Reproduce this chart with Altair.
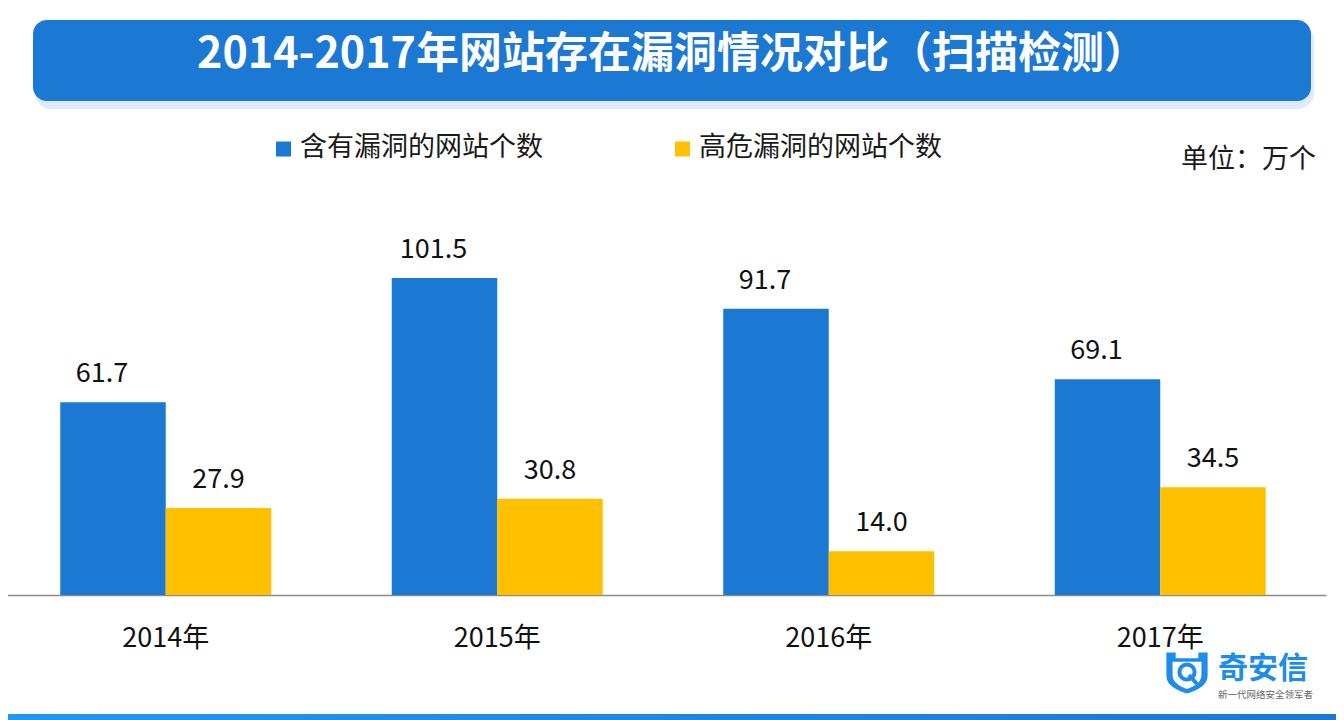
import altair as alt
import pandas as pd

FONT = "Noto Sans CJK SC"

# ---- data ----
years = ["2014年", "2015年", "2016年", "2017年"]
series_names = ["含有漏洞的网站个数", "高危漏洞的网站个数"]
vuln_sites = [61.7, 101.5, 91.7, 69.1]
high_risk_sites = [27.9, 30.8, 14.0, 34.5]
colors = ["#1B78D3", "#FFC000"]
title_text = "2014-2017年网站存在漏洞情况对比（扫描检测）"
unit_text = "单位：万个"
brand = "奇安信"
brand_sub = "新一代网络安全领军者"

rows = []
for y, a, b in zip(years, vuln_sites, high_risk_sites):
    rows.append({"year": y, "series": series_names[0], "value": a, "label": f"{a:.1f}"})
    rows.append({"year": y, "series": series_names[1], "value": b, "label": f"{b:.1f}"})
df = pd.DataFrame(rows)
one = pd.DataFrame({"k": [0]})

x_enc = alt.X(
    "year:N", sort=years,
    scale=alt.Scale(range=[-8, 1318], paddingInner=0.3635, paddingOuter=0.18175),
    axis=alt.Axis(title=None, labelFontSize=27, labelFont=FONT, labelColor="#111111",
                  labelPadding=30, ticks=False, domainColor="#8c8c8c", domainWidth=1.5,
                  labelAngle=0, grid=False),
)
xo_enc = alt.XOffset("series:N", sort=series_names, scale=alt.Scale(paddingInner=0, paddingOuter=0))
y_enc = alt.Y("value:Q", scale=alt.Scale(domain=[0, 188], nice=False), axis=None)
c_enc = alt.Color("series:N", sort=series_names,
                  scale=alt.Scale(domain=series_names, range=colors), legend=None)

base = alt.Chart(df).encode(x=x_enc, xOffset=xo_enc, y=y_enc)
bars = base.mark_bar().encode(color=c_enc)
lab_blue = base.transform_filter(alt.datum.series == series_names[0]).mark_text(
    font=FONT, fontSize=27, color="#111111", baseline="alphabetic", dy=-20, dx=-11
).encode(text="label:N")
lab_yel = base.transform_filter(alt.datum.series == series_names[1]).mark_text(
    font=FONT, fontSize=27, color="#111111", baseline="alphabetic", dy=-20
).encode(text="label:N")

deco = alt.Chart(one)

title_shadow = deco.mark_rect(cornerRadius=16, color="#DCEBFB").encode(
    x=alt.value(27), x2=alt.value(1306), y=alt.value(16), y2=alt.value(101))
title_box = deco.mark_rect(cornerRadius=14, color="#1B78D3").encode(
    x=alt.value(25), x2=alt.value(1303), y=alt.value(12), y2=alt.value(93))
title = deco.mark_text(font=FONT, fontSize=43, fontWeight="bold", color="white",
                       align="center", baseline="middle").encode(
    x=alt.value(664), y=alt.value(47), text=alt.value(title_text))

leg_sq1 = deco.mark_square(size=225, color=colors[0], opacity=1).encode(
    x=alt.value(275.5), y=alt.value(141))
leg_tx1 = deco.mark_text(font=FONT, fontSize=27, color="#1a1a1a", align="left",
                         baseline="middle").encode(
    x=alt.value(292), y=alt.value(140), text=alt.value(series_names[0]))
leg_sq2 = deco.mark_square(size=225, color=colors[1], opacity=1).encode(
    x=alt.value(674.5), y=alt.value(141))
leg_tx2 = deco.mark_text(font=FONT, fontSize=27, color="#1a1a1a", align="left",
                         baseline="middle").encode(
    x=alt.value(691), y=alt.value(140), text=alt.value(series_names[1]))
unit = deco.mark_text(font=FONT, fontSize=27, color="#1a1a1a", align="right",
                      baseline="middle").encode(
    x=alt.value(1308), y=alt.value(152), text=alt.value(unit_text))

stripe = deco.mark_rect(color=alt.Gradient(
    gradient="linear", x1=0, x2=1, y1=0, y2=0,
    stops=[alt.GradientStop(offset=0, color="#2196F3"),
           alt.GradientStop(offset=1, color="#1B78D3")])).encode(
    x=alt.value(0), x2=alt.value(1328), y=alt.value(706), y2=alt.value(712))

shield_outer = ("M-1,-1 L-0.55,-1 L-0.55,-0.72 L0.55,-0.72 L0.55,-1 L1,-1 L1,0.15 "
                "C1,0.6 0.5,0.85 0,1 C-0.5,0.85 -1,0.6 -1,0.15 Z")
shield_inner = ("M-0.7,-0.55 L0.7,-0.55 L0.7,0.1 C0.7,0.45 0.35,0.66 0,0.78 "
                "C-0.35,0.66 -0.7,0.45 -0.7,0.1 Z")
logo_o = deco.mark_point(shape=shield_outer, size=1700, filled=True, color="#1E8CEB",
                         opacity=1).encode(x=alt.value(1179), y=alt.value(665))
logo_i = deco.mark_point(shape=shield_inner, size=1700, filled=True, color="white",
                         opacity=1).encode(x=alt.value(1179), y=alt.value(665))
logo_ring = deco.mark_point(shape="circle", size=230, filled=False, color="#1E8CEB",
                            strokeWidth=4, opacity=1).encode(x=alt.value(1179), y=alt.value(664))
logo_tail = deco.mark_rule(color="#1E8CEB", strokeWidth=4).encode(
    x=alt.value(1181), x2=alt.value(1189), y=alt.value(667), y2=alt.value(676))
logo_txt = deco.mark_text(font=FONT, fontSize=30, fontWeight="bold", color="#1E8CEB",
                          align="left", baseline="middle").encode(
    x=alt.value(1210), y=alt.value(661), text=alt.value(brand))
logo_sub = deco.mark_text(font=FONT, fontSize=9.5, color="#666666", align="left",
                          baseline="middle").encode(
    x=alt.value(1210), y=alt.value(687), text=alt.value(brand_sub))

chart = alt.layer(
    title_shadow, title_box, title, leg_sq1, leg_tx1, leg_sq2, leg_tx2, unit,
    bars, lab_blue, lab_yel, stripe, logo_o, logo_i, logo_ring, logo_tail, logo_txt, logo_sub,
).properties(
    width=1328, height=587,
    autosize=alt.AutoSizeParams(type="none"),
    padding={"left": 0, "top": 0, "right": 0, "bottom": 125},
).configure_view(stroke=None)

chart.save("out.html", embed_options={"renderer": "svg", "actions": False})
